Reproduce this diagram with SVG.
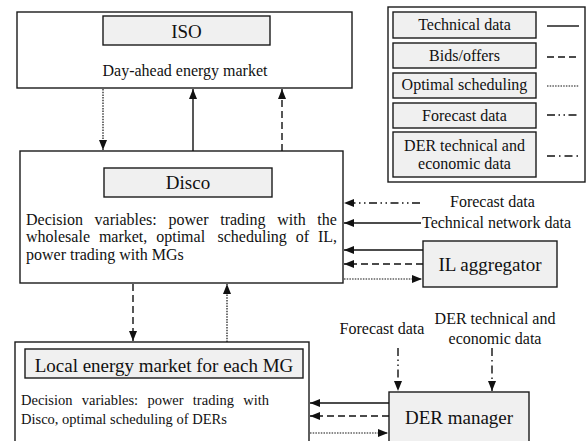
<svg xmlns="http://www.w3.org/2000/svg" width="587" height="441" viewBox="0 0 587 441">
<style>
  text { font-family: "Liberation Serif", "Times New Roman", serif; fill: #111; }
  .box { fill: #fff; stroke: #1a1a1a; stroke-width: 1.4; }
  .gbox { fill: #f0f0f0; stroke: #1a1a1a; stroke-width: 1.4; }
  .t19 { font-size: 19px; text-anchor: middle; }
  .t16 { font-size: 16px; }
  .t16c { font-size: 16px; text-anchor: middle; }
  .t14 { font-size: 14.5px; }
  .ln { fill: none; stroke: #111; stroke-width: 1.4; }
  .solid { }
  .dash { stroke-dasharray: 7 4; }
  .dot { stroke-dasharray: 1.5 1.2; stroke-width: 1.2; }
  .ddot { stroke-dasharray: 8 3.5 1.5 3.5 1.5 3.5; }
  .dd { stroke-dasharray: 8 4 1.5 4; }
</style>
<defs>
  <marker id="ah" markerUnits="userSpaceOnUse" markerWidth="10" markerHeight="9" refX="10" refY="4.5" orient="auto">
    <path d="M0,0.5 L10,4.5 L0,8.5 z" fill="#111"/>
  </marker>
</defs>

<g id="iso">
  <rect class="box" x="17" y="12" width="335" height="76"/>
  <rect class="gbox" x="103" y="16" width="167" height="29"/>
  <text class="t19" x="186.5" y="38">ISO</text>
  <text class="t16c" x="185" y="76">Day-ahead energy market</text>
</g>

<g id="disco">
  <rect class="box" x="20" y="151" width="323" height="132"/>
  <rect class="gbox" x="104" y="168" width="168" height="29"/>
  <text class="t19" x="188" y="189">Disco</text>
  <text class="t16" y="225"><tspan x="26">Decision</tspan><tspan x="94.6">variables:</tspan><tspan x="168.5">power</tspan><tspan x="220.2">trading</tspan><tspan x="277.2">with</tspan><tspan x="317.3">the</tspan></text>
  <text class="t16" y="242"><tspan x="26">wholesale</tspan><tspan x="98.9">market,</tspan><tspan x="156.2">optimal</tspan><tspan x="217.5">scheduling</tspan><tspan x="295.7">of</tspan><tspan x="317.9">IL,</tspan></text>
  <text class="t16" x="26" y="260">power trading with MGs</text>
</g>

<g id="legend">
  <rect class="box" x="388" y="7" width="197" height="175"/>
  <rect class="gbox" x="393" y="12" width="143" height="26"/>
  <text class="t16c" x="464.5" y="30">Technical data</text>
  <line class="ln solid" x1="547" y1="26" x2="579" y2="26"/>
  <rect class="gbox" x="393" y="43" width="143" height="25"/>
  <text class="t16c" x="464.5" y="61">Bids/offers</text>
  <line class="ln dash" x1="547" y1="57" x2="579" y2="57"/>
  <rect class="gbox" x="393" y="73" width="143" height="25"/>
  <text class="t16c" x="464.5" y="90">Optimal scheduling</text>
  <line class="ln dot" x1="547" y1="86" x2="579" y2="86"/>
  <rect class="gbox" x="393" y="103" width="143" height="25"/>
  <text class="t16c" x="464.5" y="121">Forecast data</text>
  <line class="ln ddot" x1="547" y1="115" x2="579" y2="115"/>
  <rect class="gbox" x="393" y="132" width="143" height="45"/>
  <text class="t16c" x="464.5" y="151">DER technical and</text>
  <text class="t16c" x="464.5" y="169">economic data</text>
  <line class="ln dd" x1="547" y1="156" x2="579" y2="156"/>
</g>

<g id="il-aggregator">
  <rect class="gbox" x="423" y="241" width="134" height="46"/>
  <text class="t19" x="490" y="271">IL aggregator</text>
</g>

<g id="local-market">
  <rect class="box" x="15" y="342" width="294" height="110"/>
  <rect class="gbox" x="25" y="349" width="278" height="29"/>
  <text class="t19" x="164" y="372">Local energy market for each MG</text>
  <text class="t14" y="405"><tspan x="21">Decision</tspan><tspan x="81.75">variables:</tspan><tspan x="147.4">power</tspan><tspan x="192.85">trading</tspan><tspan x="243.2">with</tspan></text>
  <text class="t14" x="21" y="424">Disco, optimal scheduling of DERs</text>
</g>

<g id="der-manager">
  <rect class="gbox" x="389" y="392" width="140" height="60"/>
  <text class="t19" x="459" y="424">DER manager</text>
</g>

<g id="labels">
  <text class="t16" x="450" y="207">Forecast data</text>
  <text class="t16" x="422" y="228">Technical network data</text>
  <text class="t16c" x="382" y="334">Forecast data</text>
  <text class="t16c" x="495" y="324">DER technical and</text>
  <text class="t16c" x="495" y="344">economic data</text>
</g>

<g id="connectors">
  <line class="ln dot" x1="103" y1="89" x2="103" y2="150" marker-end="url(#ah)"/>
  <line class="ln solid" x1="193" y1="151" x2="193" y2="89" marker-end="url(#ah)"/>
  <line class="ln dash" x1="282" y1="151" x2="282" y2="89" marker-end="url(#ah)"/>

  <line class="ln ddot" x1="420" y1="203" x2="344" y2="203" marker-end="url(#ah)"/>
  <line class="ln solid" x1="421" y1="223" x2="344" y2="223" marker-end="url(#ah)"/>
  <line class="ln solid" x1="423" y1="250" x2="344" y2="250" marker-end="url(#ah)"/>
  <line class="ln dash" x1="423" y1="264" x2="344" y2="264" marker-end="url(#ah)"/>
  <line class="ln dot" x1="344" y1="279" x2="422" y2="279" marker-end="url(#ah)"/>

  <line class="ln dash" x1="133" y1="284" x2="133" y2="341" marker-end="url(#ah)"/>
  <line class="ln dot" x1="227" y1="342" x2="227" y2="284" marker-end="url(#ah)"/>

  <line class="ln ddot" x1="398" y1="348" x2="398" y2="391" marker-end="url(#ah)"/>
  <line class="ln dd" x1="492" y1="348" x2="492" y2="391" marker-end="url(#ah)"/>

  <line class="ln solid" x1="389" y1="403" x2="310" y2="403" marker-end="url(#ah)"/>
  <line class="ln dash" x1="389" y1="416" x2="310" y2="416" marker-end="url(#ah)"/>
  <line class="ln dot" x1="310" y1="433" x2="388" y2="433" marker-end="url(#ah)"/>
</g>
</svg>
